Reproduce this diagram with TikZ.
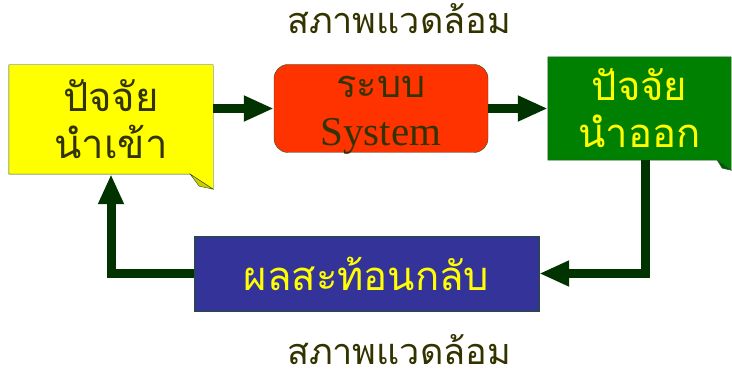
\documentclass[tikz,border=0pt]{standalone}
\usepackage{fontspec}
\setmainfont{Liberation Serif}
\newfontfamily\thaifont[Script=Thai]{Loma}
\usetikzlibrary{arrows.meta,backgrounds}
\definecolor{boxyellow}{RGB}{255,255,0}
\definecolor{foldyellow}{RGB}{204,204,0}
\definecolor{boxred}{RGB}{255,51,0}
\definecolor{boxgreen}{RGB}{0,128,0}
\definecolor{foldgreen}{RGB}{0,90,0}
\definecolor{boxblue}{RGB}{51,51,153}
\definecolor{flowgreen}{RGB}{0,51,0}
\definecolor{darktext}{RGB}{51,51,0}
\definecolor{edgegreen}{RGB}{40,80,40}
\tikzset{
  thaibig/.style={font=\thaifont\fontsize{40}{47}\selectfont, align=center},
  envtext/.style={font=\thaifont\fontsize{36}{40}\selectfont, text=darktext, inner sep=0pt},
  flow/.style={line width=9pt, draw=flowgreen,
    -{Triangle[length=30pt,width=24pt]}},
}
\begin{document}
\begin{tikzpicture}[x=1pt, y=-1pt]
      \useasboundingbox (0,0) rectangle (732,374);
      %
      \node[thaibig, text=darktext, minimum width=204pt, minimum height=109pt]
        (inp) at (111,119.5) {ปัจจัย\\นำเข้า};          % input
      \node[rounded corners=14pt, fill=boxred, draw=edgegreen,
        minimum width=214pt, minimum height=88pt]
        (sys) at (381,108.5) {};                        % system
      \node[text=darktext, align=center, font=\fontsize{41}{48}\selectfont]
        (systext) at ([yshift=-7pt]sys.center)
        {{\thaifont\fontsize{38}{48}\selectfont ระบบ}\\System};
      \node[thaibig, text=boxyellow, minimum width=183pt, minimum height=103pt]
        (out) at (639.5,108.5) {ปัจจัย\\นำออก};         % output
      \node[thaibig, text=boxyellow, fill=boxblue, draw=edgegreen,
        minimum width=345pt, minimum height=75pt]
        (fb) at (366.5,273.5) {ผลสะท้อนกลับ};            % feedback
      %
      \node[envtext] (envtop) at (399,19) {สภาพแวดล้อม};   % environment
      \node[envtext] (envbot) at (399,350) {สภาพแวดล้อม};
      %
      \begin{scope}[on background layer]
        \filldraw[fill=boxyellow, draw=edgegreen]
          (inp.north west) -- (inp.north east) -- ([yshift=-15]inp.south east)
          -- ([xshift=-23]inp.south east) -- (inp.south west) -- cycle;
        \filldraw[fill=foldyellow, draw=edgegreen]
          ([yshift=-15]inp.south east) -- ([xshift=-23]inp.south east)
          -- ([xshift=-14,yshift=-12]inp.south east) -- cycle;
        %%
        \filldraw[fill=boxgreen, draw=edgegreen]
          (out.north west) -- (out.north east) -- ([yshift=-10]out.south east)
          -- ([xshift=-14]out.south east) -- (out.south west) -- cycle;
        \filldraw[fill=foldgreen, draw=edgegreen]
          ([yshift=-10]out.south east) -- ([xshift=-14]out.south east)
          -- ([xshift=-9,yshift=-8]out.south east) -- cycle;
      \end{scope}
      %
      \draw[flow] (inp.east |- sys.west) -- (sys.west);          % forward
      \draw[flow] (sys.east) -- (out.west |- sys.east);
      \draw[flow] ([xshift=6]out.south) |- (fb.east);            % feedback loop
      \draw[flow] (fb.west) -| (inp.south);
      %
    \end{tikzpicture}
\end{document}
